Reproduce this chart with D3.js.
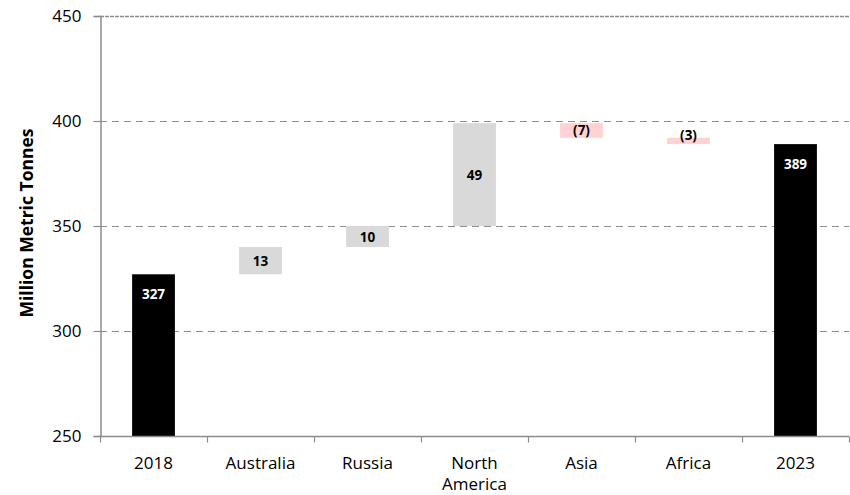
<!DOCTYPE html>
<html>
<head>
<meta charset="utf-8">
<script src="https://cdn.jsdelivr.net/npm/d3@7"></script>
<style>
  html, body { margin: 0; padding: 0; background: #ffffff; }
  svg { display: block; font-family: 'Open Sans', sans-serif; }
</style>
</head>
<body>
<div id="chart"></div>
<script>
const categories = ['2018', 'Australia', 'Russia', 'North America', 'Asia', 'Africa', '2023'];
const changes = [327, 13, 10, 49, -7, -3, 389];
const kinds = ['total', 'delta', 'delta', 'delta', 'delta', 'delta', 'total'];
const yTicks = [250, 300, 350, 400, 450];

document.addEventListener('DOMContentLoaded', function() {
    const width = 850, height = 495;
    const margin = { top: 16, right: 1, bottom: 59, left: 100 };

    const svg = d3.select('#chart')
        .append('svg')
        .attr('width', width)
        .attr('height', height);

    const x = d3.scaleBand()
        .domain(categories)
        .range([margin.left, width - margin.right])
        .paddingInner(0.6)
        .paddingOuter(0.3);

    const y = d3.scaleLinear()
        .domain([250, 450])
        .range([height - margin.bottom, margin.top]);

    // running total -> start/end of each bar
    let running = 0;
    const bars = categories.map((c, i) => {
        let start, end;
        if (kinds[i] === 'total') {
            start = 250; end = changes[i]; running = changes[i];
        } else {
            start = running; end = running + changes[i]; running = end;
        }
        return { cat: c, value: changes[i], kind: kinds[i], lo: Math.min(start, end), hi: Math.max(start, end) };
    });

    // gridlines
    svg.append('g')
        .selectAll('line')
        .data(yTicks.filter(t => t > 250))
        .enter()
        .append('line')
        .attr('x1', margin.left)
        .attr('x2', width - margin.right)
        .attr('y1', d => Math.round(y(d)) + 0.5)
        .attr('y2', d => Math.round(y(d)) + 0.5)
        .attr('stroke', '#8c8c8c')
        .attr('stroke-width', d => d === 450 ? 1.6 : 1.2)
        .attr('stroke-dasharray', d => d === 450 ? '4,1' : '7,5');

    // bars
    svg.append('g')
        .selectAll('rect')
        .data(bars)
        .enter()
        .append('rect')
        .attr('x', d => x(d.cat))
        .attr('width', x.bandwidth())
        .attr('y', d => y(d.hi))
        .attr('height', d => y(d.lo) - y(d.hi))
        .attr('fill', d => d.kind === 'total' ? '#000000' : (d.value < 0 ? '#ffd3d3' : '#d9d9d9'));

    // value labels
    svg.append('g')
        .selectAll('text')
        .data(bars)
        .enter()
        .append('text')
        .attr('x', d => x(d.cat) + x.bandwidth() / 2)
        .attr('y', d => {
            if (d.kind === 'total') return y(d.hi) + 25;
            const top = y(d.hi), bot = y(d.lo);
            if (bot - top < 10) return top - 3 + 5;
            return (top + bot) / 2 + 5;
        })
        .attr('text-anchor', 'middle')
        .attr('font-size', 13.5)
        .attr('font-weight', 'bold')
        .attr('fill', d => d.kind === 'total' ? '#ffffff' : '#000000')
        .text(d => d.value < 0 ? '(' + Math.abs(d.value) + ')' : d.value);

    // y axis
    const yAxis = svg.append('g')
        .attr('transform', `translate(${margin.left + 0.5},0)`)
        .call(d3.axisLeft(y).tickValues(yTicks).tickSize(7).tickPadding(12));
    yAxis.select('.domain').attr('stroke', '#8c8c8c').attr('stroke-width', 1.5);
    yAxis.selectAll('.tick line').attr('stroke', '#8c8c8c').attr('stroke-width', 1.2);
    yAxis.selectAll('.tick text')
        .attr('font-size', 17)
        .attr('font-family', 'Open Sans, sans-serif')
        .attr('fill', '#000');

    // x axis
    const xAxisY = Math.round(y(250)) + 0.5;
    svg.append('line')
        .attr('x1', margin.left)
        .attr('x2', width - margin.right)
        .attr('y1', xAxisY)
        .attr('y2', xAxisY)
        .attr('stroke', '#8c8c8c')
        .attr('stroke-width', 1.5);

    const plotW = width - margin.right - margin.left;
    svg.append('g')
        .selectAll('line')
        .data(d3.range(categories.length + 1))
        .enter()
        .append('line')
        .attr('x1', i => Math.round(margin.left + i * plotW / categories.length) + 0.5)
        .attr('x2', i => Math.round(margin.left + i * plotW / categories.length) + 0.5)
        .attr('y1', xAxisY)
        .attr('y2', xAxisY + 6)
        .attr('stroke', '#8c8c8c')
        .attr('stroke-width', 1.2);

    const xl = svg.append('g')
        .selectAll('text')
        .data(categories)
        .enter()
        .append('text')
        .attr('x', d => x(d) + x.bandwidth() / 2)
        .attr('y', 469)
        .attr('text-anchor', 'middle')
        .attr('font-size', 17)
        .attr('fill', '#000');
    xl.each(function(d) {
        const words = d === 'North America' ? ['North', 'America'] : [d];
        const t = d3.select(this);
        words.forEach((w, i) => {
            t.append('tspan')
                .attr('x', x(d) + x.bandwidth() / 2)
                .attr('dy', i === 0 ? 0 : 21)
                .text(w);
        });
    });

    // y axis title
    svg.append('text')
        .attr('transform', `translate(33,223) rotate(-90)`)
        .attr('text-anchor', 'middle')
        .attr('font-size', 17.5)
        .attr('font-weight', 'bold')
        .attr('fill', '#000')
        .text('Million Metric Tonnes');
});
</script>
</body>
</html>
